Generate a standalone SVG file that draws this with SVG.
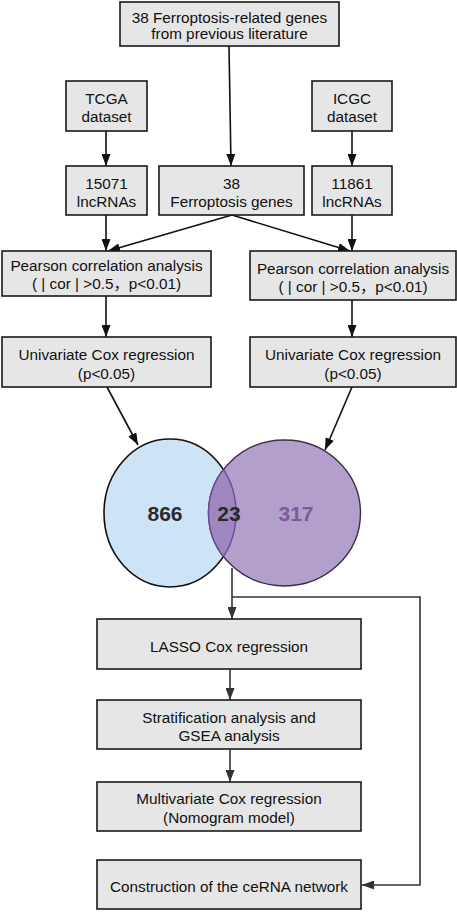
<svg xmlns="http://www.w3.org/2000/svg" width="457" height="912" viewBox="0 0 457 912">
<style>
.box{fill:#e6e6e6;stroke:#1a1a1a;stroke-width:1.6}
.t{font-family:"Liberation Sans","Noto Sans CJK SC",Arial,sans-serif;font-size:15.3px;fill:#111;text-anchor:middle}
.c{fill:none;stroke:#111;stroke-width:1.6}
.c2{fill:none;stroke:#333;stroke-width:1.6}
.n{font-family:"Liberation Sans",Arial,sans-serif;font-size:21px;font-weight:bold;text-anchor:middle}
</style>
<defs>
<marker id="ah" markerUnits="userSpaceOnUse" markerWidth="12" markerHeight="9" refX="12" refY="4.5" orient="auto">
<path d="M0,0 L12,4.5 L0,9 z" fill="#111"/>
</marker>
<marker id="ah2" markerUnits="userSpaceOnUse" markerWidth="12" markerHeight="9" refX="12" refY="4.5" orient="auto">
<path d="M0,0 L12,4.5 L0,9 z" fill="#333"/>
</marker>
<clipPath id="clipL"><ellipse cx="170" cy="513" rx="66" ry="74"/></clipPath>
<clipPath id="clipR"><ellipse cx="284.5" cy="513" rx="76" ry="73"/></clipPath>
</defs>

<g id="connectors">
<line class="c" x1="229" y1="46" x2="231" y2="166" marker-end="url(#ah)"/>
<line class="c" x1="106" y1="131" x2="106" y2="166" marker-end="url(#ah)"/>
<line class="c" x1="352" y1="131" x2="352" y2="166" marker-end="url(#ah)"/>
<line class="c" x1="106" y1="215" x2="106" y2="251" marker-end="url(#ah)"/>
<line class="c" x1="352" y1="215" x2="352" y2="251" marker-end="url(#ah)"/>
<line class="c" x1="232" y1="215" x2="108" y2="251" marker-end="url(#ah)"/>
<line class="c" x1="232" y1="215" x2="350" y2="251" marker-end="url(#ah)"/>
<line class="c" x1="106" y1="296" x2="106" y2="337" marker-end="url(#ah)"/>
<line class="c" x1="352" y1="300" x2="352" y2="337" marker-end="url(#ah)"/>
<line class="c" x1="107" y1="387" x2="138" y2="445" marker-end="url(#ah)"/>
<line class="c" x1="352" y1="387" x2="325" y2="450" marker-end="url(#ah)"/>
<line class="c2" x1="232" y1="568" x2="232" y2="619" marker-end="url(#ah2)"/>
<polyline class="c2" points="232,597 420,597 420,885 362,885" marker-end="url(#ah2)"/>
<line class="c2" x1="230" y1="669" x2="230" y2="700" marker-end="url(#ah2)"/>
<line class="c2" x1="230" y1="749" x2="230" y2="782" marker-end="url(#ah2)"/>
</g>

<g id="n-top"><rect class="box" x="120" y="2" width="219" height="44"/>
<text class="t" x="229.5" y="22.5">38 Ferroptosis-related genes</text>
<text class="t" x="229.5" y="38.8">from previous literature</text></g>

<g id="n-tcga"><rect class="box" x="66" y="81" width="81" height="50"/>
<text class="t" x="106.5" y="103.5">TCGA</text><text class="t" x="106.5" y="121.5">dataset</text></g>

<g id="n-icgc"><rect class="box" x="312" y="81" width="80" height="50"/>
<text class="t" x="352" y="103.5">ICGC</text><text class="t" x="352" y="121.5">dataset</text></g>

<g id="n-15071"><rect class="box" x="66" y="166" width="81" height="49"/>
<text class="t" x="106.5" y="188.5">15071</text><text class="t" x="106.5" y="206.5">lncRNAs</text></g>

<g id="n-38"><rect class="box" x="159" y="166" width="145" height="49"/>
<text class="t" x="231.5" y="188.5">38</text><text class="t" x="231.5" y="206.5">Ferroptosis genes</text></g>

<g id="n-11861"><rect class="box" x="312" y="166" width="80" height="49"/>
<text class="t" x="352" y="188.5">11861</text><text class="t" x="352" y="206.5">lncRNAs</text></g>

<g id="n-pearson-l"><rect class="box" x="2" y="251" width="209" height="45"/>
<text class="t" x="106.5" y="270.5">Pearson correlation analysis</text>
<text class="t" x="106.5" y="288.5">( | cor | &gt;0.5，p&lt;0.01)</text></g>

<g id="n-pearson-r"><rect class="box" x="250" y="251" width="206" height="49"/>
<text class="t" x="353" y="273.5">Pearson correlation analysis</text>
<text class="t" x="353" y="291.5">( | cor | &gt;0.5，p&lt;0.01)</text></g>

<g id="n-uni-l"><rect class="box" x="2" y="337" width="209" height="50"/>
<text class="t" x="106.5" y="359.5">Univariate Cox regression</text>
<text class="t" x="106.5" y="378.5">(p&lt;0.05)</text></g>

<g id="n-uni-r"><rect class="box" x="250" y="337" width="206" height="50"/>
<text class="t" x="353" y="359.5">Univariate Cox regression</text>
<text class="t" x="353" y="378.5">(p&lt;0.05)</text></g>

<g id="n-venn">
<ellipse cx="170" cy="513" rx="66" ry="74" fill="#cde3f6" stroke="#111" stroke-width="1.6"/>
<ellipse cx="284.5" cy="513" rx="76" ry="73" fill="#b29fcc" stroke="#3d3046" stroke-width="1.4"/>
<ellipse cx="284.5" cy="513" rx="76" ry="73" fill="#9f87c0" clip-path="url(#clipL)"/>
<ellipse cx="170" cy="513" rx="66" ry="74" fill="none" stroke="#6a4c9a" stroke-width="1.4" clip-path="url(#clipR)"/>
<ellipse cx="284.5" cy="513" rx="76" ry="73" fill="none" stroke="#6a4c9a" stroke-width="1.4" clip-path="url(#clipL)"/>
<text class="n" x="165" y="521" fill="#2a2a2a">866</text>
<text class="n" x="229" y="521" fill="#2a2a2a">23</text>
<text class="n" x="296" y="521" fill="#7b5a9e">317</text>
</g>

<g id="n-lasso"><rect class="box" x="97" y="619" width="264" height="50"/>
<text class="t" x="229" y="651.5">LASSO Cox regression</text></g>

<g id="n-strat"><rect class="box" x="97" y="700" width="264" height="49"/>
<text class="t" x="229" y="722.5">Stratification analysis and</text>
<text class="t" x="229" y="740.5">GSEA analysis</text></g>

<g id="n-multi"><rect class="box" x="97" y="782" width="264" height="49"/>
<text class="t" x="229" y="803.5">Multivariate Cox regression</text>
<text class="t" x="229" y="822.5">(Nomogram model)</text></g>

<g id="n-cerna"><rect class="box" x="97" y="860" width="264" height="49"/>
<text class="t" x="229" y="891.5">Construction of the ceRNA network</text></g>
</svg>
